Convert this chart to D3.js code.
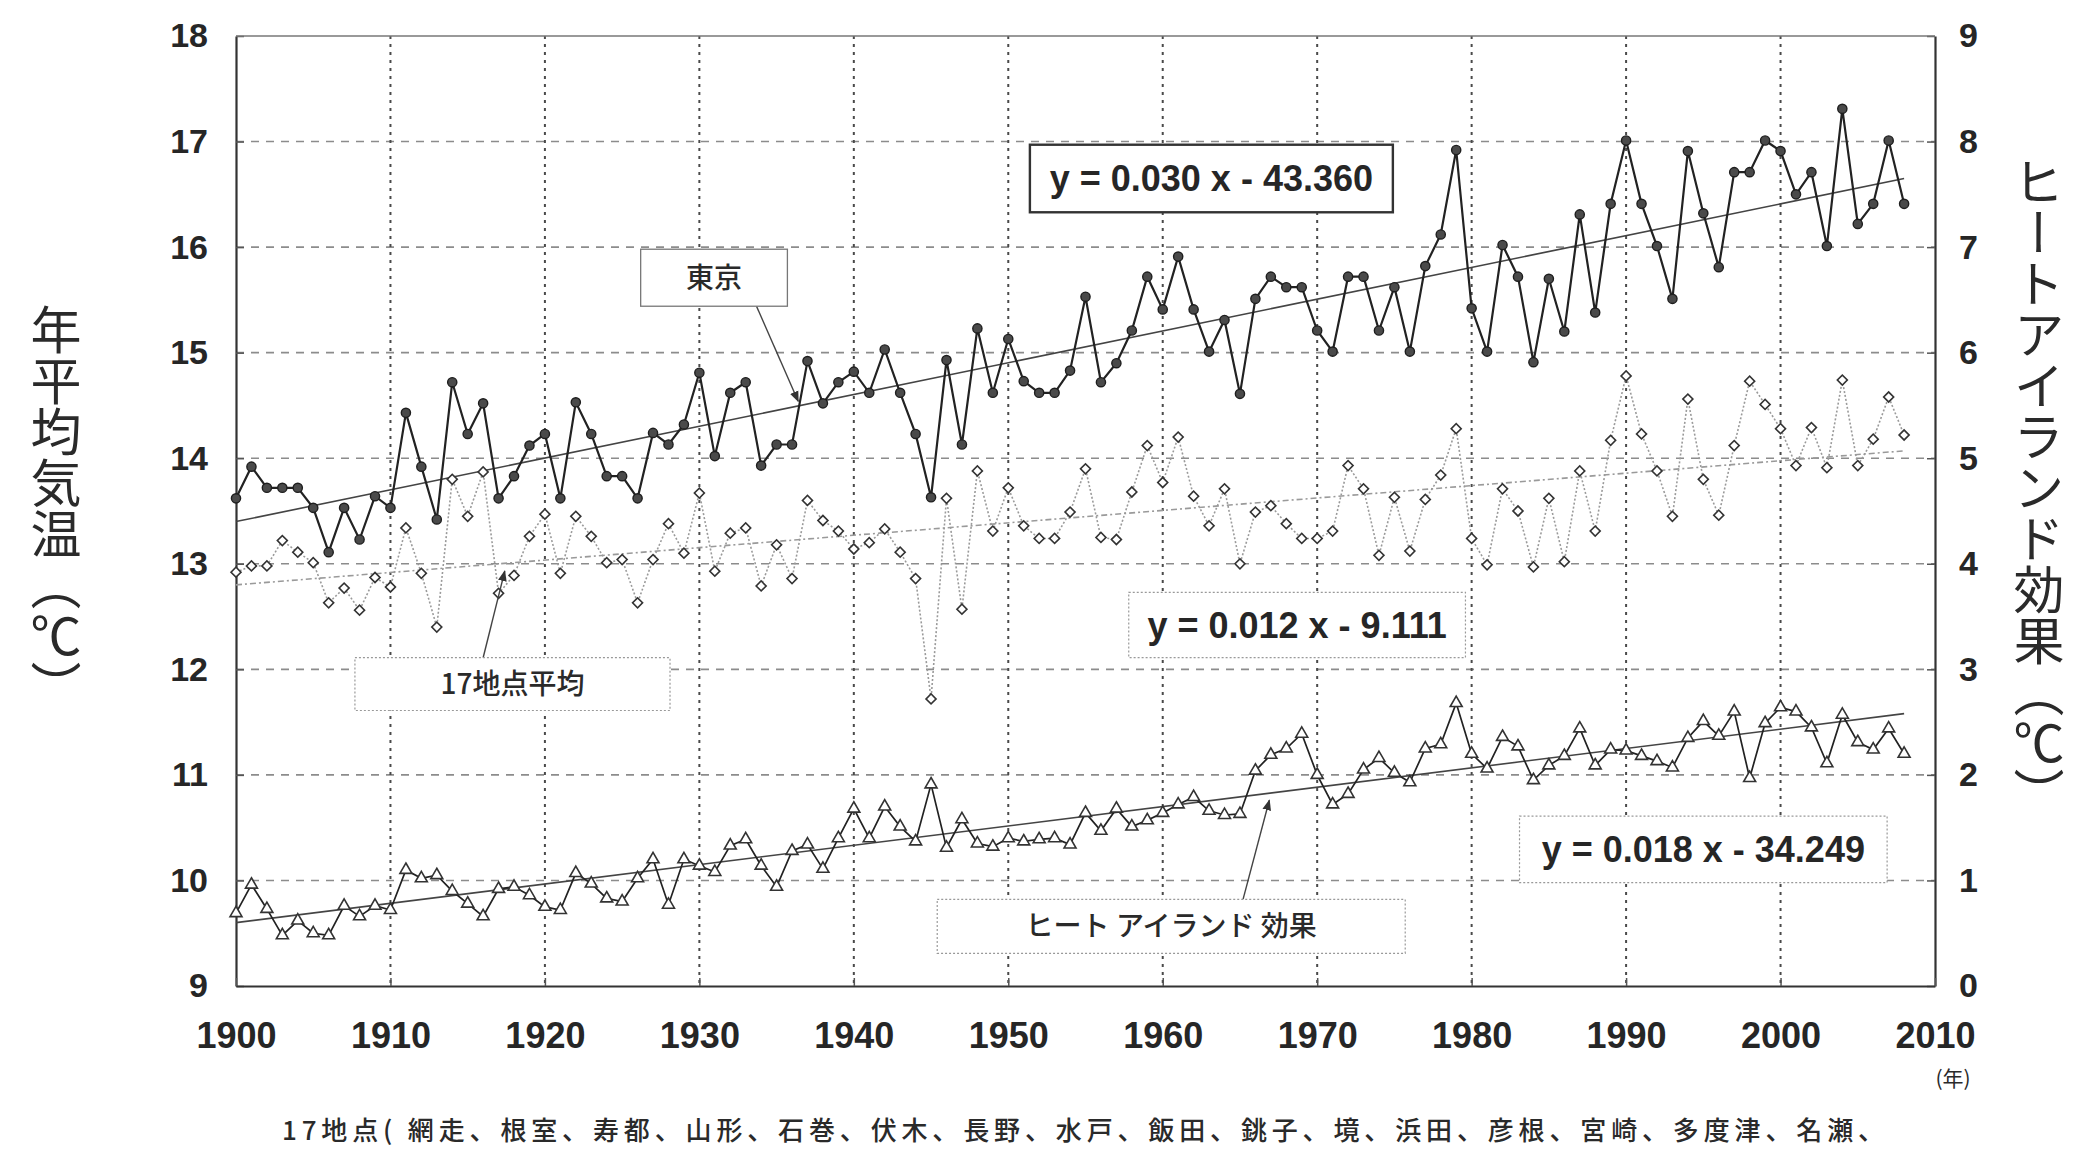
<!DOCTYPE html>
<html lang="ja">
<head>
<meta charset="UTF-8">
<title>年平均気温とヒートアイランド効果</title>
<script src="https://cdnjs.cloudflare.com/ajax/libs/d3/7.8.5/d3.min.js"></script>
<style>
  body { margin: 0; background: #fff; }
  svg { display: block; }
  .tick text { font-family: "Liberation Sans", Arial, sans-serif; font-weight: bold; font-size: 34px; fill: #262626; }
  .xaxis .tick text { font-size: 36px; }
  .jp { font-family: "Noto Sans CJK JP", sans-serif; fill: #2a2a2a; }
  .eq { font-family: "Liberation Sans", Arial, sans-serif; font-weight: bold; font-size: 36px; fill: #262626; }
</style>
</head>
<body>
<svg id="chart" width="2076" height="1151"></svg>
<script>
    // 1900 - 2008
    const years = d3.range(1900, 2009);

    const tokyo = [
        13.62, 13.92, 13.72, 13.72, 13.72, 13.53, 13.11, 13.53, 13.23, 13.64,
        13.53, 14.43, 13.92, 13.42, 14.72, 14.23, 14.52, 13.62, 13.83, 14.12,
        14.23, 13.62, 14.53, 14.23, 13.83, 13.83, 13.62, 14.24, 14.13, 14.32,
        14.81, 14.02, 14.62, 14.72, 13.93, 14.13, 14.13, 14.92, 14.52, 14.72,
        14.82, 14.62, 15.03, 14.62, 14.23, 13.63, 14.93, 14.13, 15.23, 14.62,
        15.13, 14.73, 14.62, 14.62, 14.83, 15.53, 14.72, 14.90, 15.21, 15.72,
        15.41, 15.91, 15.41, 15.01, 15.31, 14.61, 15.51, 15.72, 15.62, 15.62,
        15.21, 15.01, 15.72, 15.72, 15.21, 15.62, 15.01, 15.82, 16.12, 16.92,
        15.42, 15.01, 16.02, 15.72, 14.91, 15.70, 15.20, 16.31, 15.38, 16.41,
        17.01, 16.41, 16.01, 15.51, 16.91, 16.32, 15.81, 16.71, 16.71, 17.01,
        16.91, 16.50, 16.71, 16.01, 17.31, 16.22, 16.41, 17.01, 16.41
    ];

    const avg17 = [
        12.92, 12.98, 12.98, 13.22, 13.11, 13.01, 12.63, 12.77, 12.56, 12.87,
        12.78, 13.34, 12.91, 12.40, 13.80, 13.45, 13.87, 12.72, 12.89, 13.26,
        13.47, 12.91, 13.45, 13.26, 13.01, 13.04, 12.63, 13.04, 13.38, 13.10,
        13.67, 12.93, 13.29, 13.34, 12.79, 13.18, 12.86, 13.60, 13.41, 13.31,
        13.14, 13.20, 13.33, 13.11, 12.86, 11.72, 13.62, 12.57, 13.88, 13.31,
        13.72, 13.36, 13.24, 13.24, 13.49, 13.90, 13.25, 13.23, 13.68, 14.12,
        13.77, 14.20, 13.64, 13.36, 13.71, 13.00, 13.49, 13.55, 13.38, 13.24,
        13.24, 13.31, 13.93, 13.71, 13.08, 13.63, 13.12, 13.61, 13.84, 14.28,
        13.24, 12.99, 13.71, 13.50, 12.97, 13.62, 13.02, 13.88, 13.31, 14.17,
        14.78, 14.23, 13.88, 13.45, 14.56, 13.80, 13.46, 14.12, 14.73, 14.51,
        14.28, 13.93, 14.29, 13.91, 14.74, 13.93, 14.18, 14.58, 14.22
    ];

    const heatIsland = [
        0.69, 0.96, 0.73, 0.48, 0.62, 0.50, 0.48, 0.76, 0.66, 0.76,
        0.72, 1.10, 1.02, 1.05, 0.90, 0.78, 0.66, 0.92, 0.94, 0.86,
        0.75, 0.72, 1.07, 0.97, 0.83, 0.80, 1.02, 1.20, 0.77, 1.20,
        1.14, 1.08, 1.33, 1.39, 1.14, 0.94, 1.28, 1.34, 1.11, 1.40,
        1.68, 1.40, 1.70, 1.51, 1.37, 1.91, 1.31, 1.58, 1.35, 1.32,
        1.40, 1.37, 1.39, 1.40, 1.34, 1.64, 1.47, 1.68, 1.51, 1.57,
        1.64, 1.72, 1.79, 1.66, 1.62, 1.63, 2.04, 2.19, 2.25, 2.39,
        2.00, 1.72, 1.82, 2.05, 2.16, 2.02, 1.93, 2.25, 2.29, 2.68,
        2.20, 2.06, 2.36, 2.27, 1.95, 2.09, 2.18, 2.44, 2.09, 2.24,
        2.23, 2.18, 2.13, 2.07, 2.35, 2.51, 2.37, 2.60, 1.97, 2.49,
        2.64, 2.60, 2.45, 2.11, 2.57, 2.31, 2.24, 2.44, 2.20
    ];

    // trend lines, value at first and last year
    const trendYears = [1900, 2008];
    const tokyoTrend = [13.40, 16.65];
    const avgTrend = [12.80, 14.07];
    const heatTrend = [0.60, 2.58];

    const leftTicks = [9, 10, 11, 12, 13, 14, 15, 16, 17, 18];
    const rightTicks = [0, 1, 2, 3, 4, 5, 6, 7, 8, 9];
    const yearTicks = [1900, 1910, 1920, 1930, 1940, 1950, 1960, 1970, 1980, 1990, 2000, 2010];

    const equations = ["y = 0.030 x - 43.360", "y = 0.012 x - 9.111", "y = 0.018 x - 34.249"];
    const seriesNames = ["東京", "17地点平均", "ヒート アイランド 効果"];
    const leftTitle = "年平均気温（℃）";
    const rightTitle = "ヒートアイランド効果（℃）";
    const stationNote = "17地点( 網走、根室、寿都、山形、石巻、伏木、長野、水戸、飯田、銚子、境、浜田、彦根、宮崎、多度津、名瀬、";

    const svg = d3.select("#chart");
    const x = d3.scaleLinear().domain([1900, 2010]).range([236, 1935]);
    const yL = d3.scaleLinear().domain([9, 18]).range([986, 36]);
    const yR = d3.scaleLinear().domain([0, 9]).range([986, 36]);

    const defs = svg.append("defs");
    defs.append("marker")
        .attr("id", "arrow")
        .attr("viewBox", "0 0 10 10")
        .attr("refX", 9).attr("refY", 5)
        .attr("markerWidth", 11).attr("markerHeight", 11)
        .attr("markerUnits", "userSpaceOnUse")
        .attr("orient", "auto")
        .append("path")
        .attr("d", "M0,1 L10,5 L0,9 z")
        .attr("fill", "#333");

    // grid
    svg.append("g").selectAll("line")
        .data(leftTicks.slice(1, -1))
        .join("line")
        .attr("x1", x(1900)).attr("x2", x(2010))
        .attr("y1", d => yL(d)).attr("y2", d => yL(d))
        .attr("stroke", "#8c8c8c").attr("stroke-width", 1.6)
        .attr("stroke-dasharray", "8,7");

    svg.append("g").selectAll("line")
        .data(yearTicks.slice(1, -1))
        .join("line")
        .attr("x1", d => x(d)).attr("x2", d => x(d))
        .attr("y1", yL(18)).attr("y2", yL(9))
        .attr("stroke", "#4a4a4a").attr("stroke-width", 2)
        .attr("stroke-dasharray", "3,5");

    // axes
    const axisLeft = svg.append("g")
        .attr("transform", `translate(${x(1900)},0)`)
        .call(d3.axisLeft(yL).tickValues(leftTicks).tickSize(-8).tickSizeOuter(0).tickPadding(28));
    const axisRight = svg.append("g")
        .attr("transform", `translate(${x(2010)},0)`)
        .call(d3.axisRight(yR).tickValues(rightTicks).tickSize(-8).tickSizeOuter(0).tickPadding(24));
    const axisBottom = svg.append("g")
        .attr("class", "xaxis")
        .attr("transform", `translate(0,${yL(9)})`)
        .call(d3.axisBottom(x).tickValues(yearTicks).tickFormat(d3.format("d")).tickSize(-8).tickSizeOuter(0).tickPadding(36));

    [axisLeft, axisRight, axisBottom].forEach(g => {
        g.select(".domain").attr("stroke", "#333").attr("stroke-width", 2.2);
        g.selectAll(".tick line").attr("stroke", "#555").attr("stroke-width", 1.5);
    });

    svg.append("line")
        .attr("x1", x(1900)).attr("x2", x(2010))
        .attr("y1", yL(18)).attr("y2", yL(18))
        .attr("stroke", "#777").attr("stroke-width", 1.5);

    // trend lines
    const trend = (vals, scale) => trendYears.map((yr, i) => [x(yr), scale(vals[i])]);
    svg.append("path").attr("d", d3.line()(trend(tokyoTrend, yL)))
        .attr("stroke", "#444").attr("stroke-width", 1.6).attr("fill", "none");
    svg.append("path").attr("d", d3.line()(trend(avgTrend, yL)))
        .attr("stroke", "#9a9a9a").attr("stroke-width", 1.6).attr("fill", "none")
        .attr("stroke-dasharray", "6,3,2,3");
    svg.append("path").attr("d", d3.line()(trend(heatTrend, yR)))
        .attr("stroke", "#444").attr("stroke-width", 1.6).attr("fill", "none");

    // series
    const lineL = d3.line().x((d, i) => x(years[i])).y(d => yL(d));
    const lineR = d3.line().x((d, i) => x(years[i])).y(d => yR(d));

    svg.append("path").attr("d", lineL(avg17))
        .attr("fill", "none").attr("stroke", "#9a9a9a").attr("stroke-width", 1.6)
        .attr("stroke-dasharray", "2,2");
    svg.append("path").attr("d", lineL(tokyo))
        .attr("fill", "none").attr("stroke", "#222").attr("stroke-width", 2.2);
    svg.append("path").attr("d", lineR(heatIsland))
        .attr("fill", "none").attr("stroke", "#222").attr("stroke-width", 1.7);

    svg.append("g").selectAll("path")
        .data(avg17)
        .join("path")
        .attr("d", d3.symbol(d3.symbolSquare, 50))
        .attr("transform", (d, i) => `translate(${x(years[i])},${yL(d)}) rotate(45)`)
        .attr("fill", "#fff").attr("stroke", "#333").attr("stroke-width", 1.6);

    svg.append("g").selectAll("circle")
        .data(tokyo)
        .join("circle")
        .attr("cx", (d, i) => x(years[i]))
        .attr("cy", d => yL(d))
        .attr("r", 4.6)
        .attr("fill", "#4a4a4a").attr("stroke", "#1e1e1e").attr("stroke-width", 1.4);

    svg.append("g").selectAll("path")
        .data(heatIsland)
        .join("path")
        .attr("d", d3.symbol(d3.symbolTriangle, 62))
        .attr("transform", (d, i) => `translate(${x(years[i])},${yR(d)})`)
        .attr("fill", "#fff").attr("stroke", "#333").attr("stroke-width", 1.6);

    // label boxes, placed in year / left-axis units
    const boxes = [
        { text: equations[0], cls: "eq", x0: 1951.4, x1: 1974.9, y0: 16.97, y1: 16.33, stroke: "#333", width: 2.4, dash: null },
        { text: equations[1], cls: "eq", x0: 1957.8, x1: 1979.6, y0: 12.73, y1: 12.11, stroke: "#999", width: 1.2, dash: "2,2" },
        { text: equations[2], cls: "eq", x0: 1983.1, x1: 2006.9, y0: 10.61, y1: 9.98, stroke: "#999", width: 1.2, dash: "2,2" },
        { text: seriesNames[0], cls: "jp", x0: 1926.2, x1: 1935.7, y0: 15.98, y1: 15.44, stroke: "#777", width: 1.3, dash: null },
        { text: seriesNames[1], cls: "jp", x0: 1907.7, x1: 1928.1, y0: 12.11, y1: 11.61, stroke: "#999", width: 1.2, dash: "2,2" },
        { text: seriesNames[2], cls: "jp", x0: 1945.4, x1: 1975.7, y0: 9.82, y1: 9.31, stroke: "#999", width: 1.2, dash: "2,2" }
    ];

    const callouts = [
        { from: [1933.7, 15.44], to: [1936.4, 14.54] },
        { from: [1916.0, 12.11], to: [1917.4, 12.93] },
        { from: [1965.2, 9.82], to: [1966.9, 10.76] }
    ];

    svg.append("g").selectAll("line")
        .data(callouts)
        .join("line")
        .attr("x1", d => x(d.from[0])).attr("y1", d => yL(d.from[1]))
        .attr("x2", d => x(d.to[0])).attr("y2", d => yL(d.to[1]))
        .attr("stroke", "#444").attr("stroke-width", 1.4)
        .attr("marker-end", "url(#arrow)");

    const boxG = svg.append("g").selectAll("g")
        .data(boxes)
        .join("g");

    boxG.append("rect")
        .attr("x", d => x(d.x0)).attr("y", d => yL(d.y0))
        .attr("width", d => x(d.x1) - x(d.x0))
        .attr("height", d => yL(d.y1) - yL(d.y0))
        .attr("fill", "#fff")
        .attr("stroke", d => d.stroke).attr("stroke-width", d => d.width)
        .attr("stroke-dasharray", d => d.dash);

    boxG.append("text")
        .attr("class", d => d.cls)
        .attr("x", d => (x(d.x0) + x(d.x1)) / 2)
        .attr("y", d => (yL(d.y0) + yL(d.y1)) / 2)
        .attr("dy", "0.36em")
        .attr("text-anchor", "middle")
        .style("font-size", d => d.cls === "jp" ? "28px" : null)
        .style("font-weight", d => d.cls === "jp" ? 500 : null)
        .text(d => d.text);

    // axis titles
    svg.append("text")
        .attr("class", "jp")
        .attr("x", 56).attr("y", 508)
        .attr("text-anchor", "middle")
        .style("writing-mode", "vertical-rl")
        .style("font-size", "51px")
        .text(leftTitle);

    svg.append("text")
        .attr("class", "jp")
        .attr("x", 2039).attr("y", 488)
        .attr("text-anchor", "middle")
        .style("writing-mode", "vertical-rl")
        .style("font-size", "51px")
        .text(rightTitle);

    svg.append("text")
        .attr("class", "jp")
        .attr("x", 1953).attr("y", 1086)
        .attr("text-anchor", "middle")
        .style("font-size", "21px")
        .text("(年)");

    svg.append("text")
        .attr("class", "jp")
        .attr("x", 282).attr("y", 1140)
        .attr("textLength", 1602)
        .attr("lengthAdjust", "spacing")
        .style("font-size", "26px")
        .style("font-weight", 500)
        .text(stationNote);
</script>
</body>
</html>
